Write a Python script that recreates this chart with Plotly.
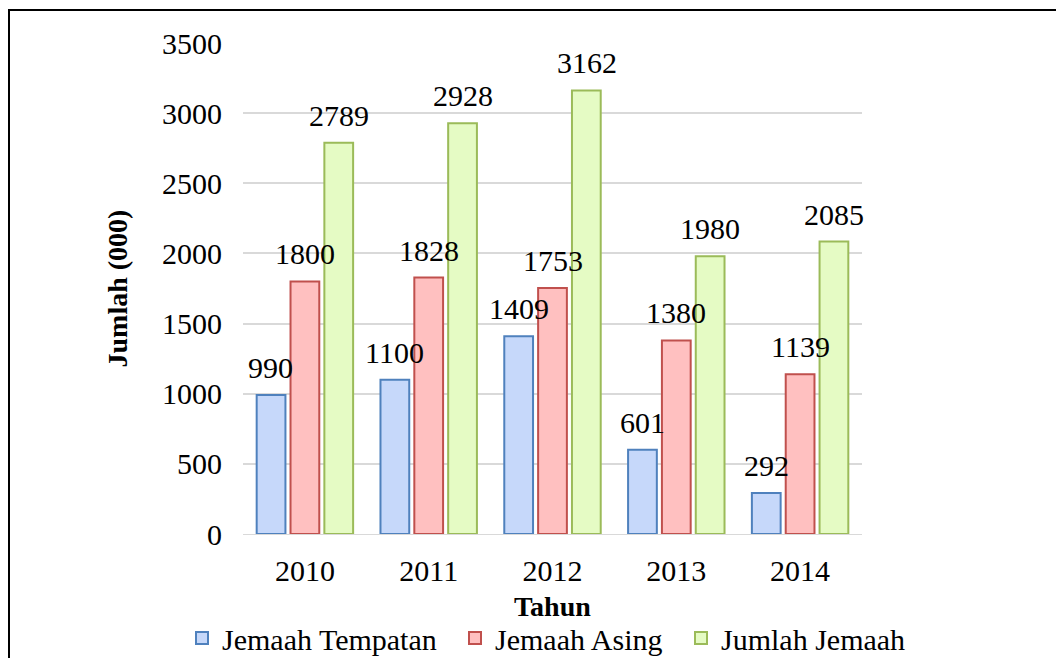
import plotly.graph_objects as go

years = ["2010", "2011", "2012", "2013", "2014"]
tempatan = [990, 1100, 1409, 601, 292]
asing = [1800, 1828, 1753, 1380, 1139]
jumlah = [2789, 2928, 3162, 1980, 2085]
series_names = ["Jemaah Tempatan", "Jemaah Asing", "Jumlah Jemaah"]
y_ticks = [0, 500, 1000, 1500, 2000, 2500, 3000, 3500]

fills = ["#c6d8fa", "#ffc0c0", "#e5fbc4"]
borders = ["#4f81bd", "#c0504d", "#9bbb59"]
FONT = "Liberation Serif"
FS = 30

W, H = 1056, 650
L, R, T, B = 235, 202, 35, 124
pw, ph = W - L - R, H - T - B

legend_names = ["legend", "legend2", "legend3"]
legend_x = [174, 447, 673]

fig = go.Figure()
all_series = [tempatan, asing, jumlah]
for name, vals, fc, bc, lg in zip(series_names, all_series, fills, borders, legend_names):
    fig.add_trace(go.Bar(
        x=years, y=vals, name=name, legend=lg,
        marker=dict(color=fc, line=dict(color=bc, width=2)),
    ))

offsets = [-34, 0, 34]
for vals, dx in zip(all_series, offsets):
    for i, v in enumerate(vals):
        fig.add_annotation(x=i, y=v, text=str(v), showarrow=False,
                           xshift=dx, yshift=9, yanchor="bottom",
                           font=dict(family=FONT, size=FS, color="black"))

# x-axis title
fig.add_annotation(xref="paper", yref="paper", x=0.5, y=-(598 - (H - B)) / ph,
                   text="<b>Tahun</b>", showarrow=False, yanchor="middle",
                   font=dict(family=FONT, size=28, color="black"))

fig.add_shape(type="rect", xref="paper", yref="paper",
              x0=(1 - L) / pw, x1=(W + 20 - L) / pw,
              y0=-(B + 20) / ph, y1=1 + (T - 2) / ph,
              line=dict(color="black", width=2), layer="below")

legend_common = dict(orientation="h", xref="container", yref="container",
                     xanchor="left", y=1 - 630 / H, yanchor="middle",
                     bgcolor="rgba(0,0,0,0)",
                     font=dict(family=FONT, size=FS, color="black"))
legends = {lg: dict(x=lx / W, **legend_common) for lg, lx in zip(legend_names, legend_x)}

fig.update_layout(
    width=W, height=H,
    margin=dict(l=L, r=R, t=T, b=B, autoexpand=False),
    paper_bgcolor="white", plot_bgcolor="white",
    barmode="group", bargap=0.18, bargroupgap=0.15,
    font=dict(family=FONT, size=FS, color="black"),
    showlegend=True,
    **legends,
    xaxis=dict(type="category", automargin=False, range=[-0.5, len(years) - 0.5],
               showline=True, linecolor="#d9d9d9", linewidth=1,
               ticks="", tickfont=dict(size=FS), ticklabelstandoff=10),
    yaxis=dict(automargin=False,
               title=dict(text="<b>Jumlah (000)</b>", font=dict(size=28), standoff=26),
               range=[0, 3500], tickvals=y_ticks,
               showgrid=True, gridcolor="#d9d9d9", gridwidth=1.5,
               zeroline=False, showline=False, ticks="",
               tickfont=dict(size=FS), ticklabelstandoff=20),
)

fig.write_html("out.html")
